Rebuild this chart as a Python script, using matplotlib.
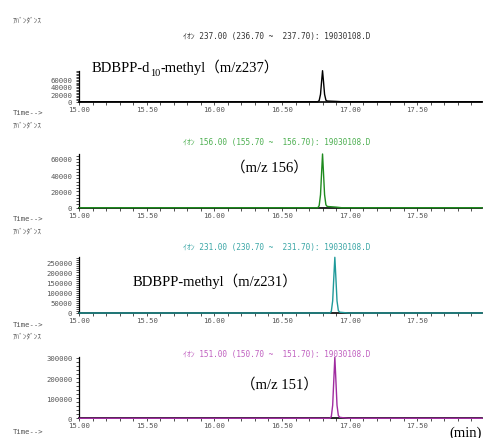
import matplotlib
matplotlib.use("Agg")
import matplotlib.pyplot as plt
from matplotlib.ticker import FixedLocator, MultipleLocator, FormatStrFormatter

# ---------------- data ----------------
titles = [
    "ｲｵﾝ 237.00 (236.70 ~  237.70): 19030108.D",
    "ｲｵﾝ 156.00 (155.70 ~  156.70): 19030108.D",
    "ｲｵﾝ 231.00 (230.70 ~  231.70): 19030108.D",
    "ｲｵﾝ 151.00 (150.70 ~  151.70): 19030108.D",
]
# panel 1 label is split in three parts because of the subscript
label1_parts = ["BDBPP-d", "10", "-methyl（m/z237）"]
labels = [
    None,
    "（m/z 156）",
    "BDBPP-methyl（m/z231）",
    "（m/z 151）",
]
ylabel_text = "ｱﾊﾞﾝﾀﾞﾝｽ"
xlabel_text = "Time-->"

x_ticks = [15.0, 15.5, 16.0, 16.5, 17.0, 17.5]

t_237 = [15.00, 16.765, 16.775, 16.785, 16.793, 16.800, 16.807, 16.815, 16.825, 16.835, 16.860, 16.900, 16.940, 17.98]
a_237 = [0, 0, 3000, 20000, 55000, 84000, 55000, 20000, 4000, 1800, 1400, 800, 0, 0]

t_156 = [15.00, 16.765, 16.775, 16.785, 16.793, 16.800, 16.807, 16.815, 16.825, 16.835, 16.860, 16.900, 16.940, 17.98]
a_156 = [0, 0, 2500, 16000, 43000, 66000, 43000, 16000, 3500, 1500, 1200, 700, 0, 0]

t_231 = [15.00, 16.855, 16.865, 16.875, 16.883, 16.891, 16.899, 16.907, 16.917, 16.927, 16.950, 16.990, 17.98]
a_231 = [0, 0, 8000, 60000, 170000, 275000, 170000, 60000, 12000, 4000, 2500, 0, 0]

t_151 = [15.00, 16.855, 16.865, 16.875, 16.883, 16.891, 16.899, 16.907, 16.917, 16.927, 16.950, 16.990, 17.98]
a_151 = [0, 0, 9000, 65000, 185000, 303000, 185000, 65000, 14000, 5000, 3000, 0, 0]

y_ticks = [
    [0, 20000, 40000, 60000],
    [0, 20000, 40000, 60000],
    [0, 50000, 100000, 150000, 200000, 250000],
    [0, 100000, 200000, 300000],
]
y_tops = [84000, 66000, 275000, 303000]
y_minor = [4000, 4000, 10000, 20000]

series_t = [t_237, t_156, t_231, t_151]
series_a = [a_237, a_156, a_231, a_151]
colors = ["#000000", "#1e8a1e", "#1f9a9a", "#a02ca0"]
title_colors = ["#333333", "#4caf50", "#3aa6a6", "#c060c0"]

# ---------------- layout (pixels) ----------------
W, H = 486, 439
fig = plt.figure(figsize=(W / 100, H / 100), dpi=100)
fig.patch.set_facecolor("white")

ax_left, ax_right = 79.3, 482.0
panels = [(71.7, 102.7), (155.0, 208.7), (258.3, 314.0), (358.3, 419.3)]
label_pos = [(92, 66, "left"), (269, 168, "center"), (133, 281, "left"), (279, 385, "center")]
title_y = [37, 143, 248, 355]
abund_y = [20, 125, 231, 336]
time_y = [113, 219, 325, 432]

small_font = ["DejaVu Sans Mono", "Noto Sans CJK JP"]
label_font = ["Liberation Serif", "Noto Sans CJK JP"]
SMALL = 5.2
LABEL = 10.5


def fx(px):
    return px / W


def fy(py):
    return 1 - py / H


for i in range(4):
    top, bot = panels[i]
    ax = fig.add_axes([fx(ax_left), fy(bot), (ax_right - ax_left) / W, (bot - top) / H])
    ax.plot(series_t[i], series_a[i], color=colors[i], lw=1.0, clip_on=False, zorder=5)
    ax.set_xlim(15.0, 17.98)
    ax.set_ylim(0, y_tops[i])
    for s in ("top", "right"):
        ax.spines[s].set_visible(False)
    ax.spines["left"].set_linewidth(0.9)
    ax.spines["bottom"].set_linewidth(1.2)
    ax.xaxis.set_major_locator(FixedLocator(x_ticks))
    ax.xaxis.set_minor_locator(MultipleLocator(0.1))
    ax.xaxis.set_major_formatter(FormatStrFormatter("%.2f"))
    ax.yaxis.set_major_locator(FixedLocator(y_ticks[i]))
    ax.yaxis.set_minor_locator(MultipleLocator(y_minor[i]))
    ax.yaxis.set_major_formatter(FormatStrFormatter("%d"))
    ax.tick_params(axis="both", which="both", length=2, width=0.6, color="#333333",
                   labelsize=SMALL, labelcolor="#555555", pad=0.8)
    ax.tick_params(axis="y", which="major", pad=3)
    for lab in ax.get_xticklabels() + ax.get_yticklabels():
        lab.set_family(small_font)

    fig.text(fx(13), fy(abund_y[i]), ylabel_text, family=small_font, fontsize=SMALL,
             color="#555555", ha="left", va="center")
    fig.text(fx(13), fy(time_y[i]), xlabel_text, family=small_font, fontsize=SMALL,
             color="#555555", ha="left", va="center")
    fig.text(fx(277), fy(title_y[i]), titles[i], family=small_font, fontsize=5.6,
             color=title_colors[i], ha="center", va="center")
    lx, ly, lha = label_pos[i]
    if i == 0:
        t1 = fig.text(fx(lx), fy(ly + 6), label1_parts[0], family=label_font,
                      fontsize=LABEL, color="black", ha="left", va="baseline")
        t2 = ax.annotate(label1_parts[1], xy=(1, 0), xycoords=t1,
                         xytext=(0, -2.5), textcoords="offset points",
                         family=label_font, fontsize=LABEL * 0.7, color="black",
                         ha="left", va="bottom", annotation_clip=False)
        ax.annotate(label1_parts[2], xy=(1, 0), xycoords=(t2, t1),
                    xytext=(0, 0), textcoords="offset points",
                    family=label_font, fontsize=LABEL, color="black",
                    ha="left", va="bottom", annotation_clip=False)
    else:
        fig.text(fx(lx), fy(ly), labels[i], family=label_font, fontsize=LABEL,
                 color="black", ha=lha, va="center")

fig.text(fx(466), fy(433), "(min)", family=["Liberation Serif"], fontsize=LABEL,
         color="black", ha="center", va="center")

fig.savefig("out.png", dpi=100)
